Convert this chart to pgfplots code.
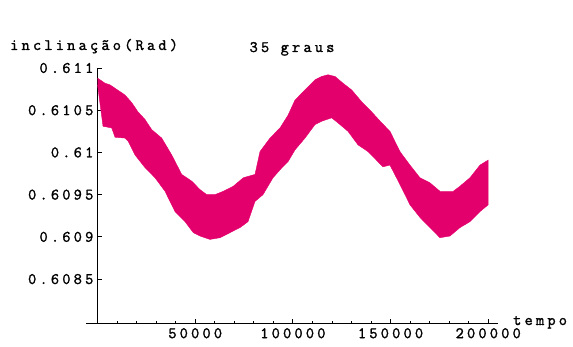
\documentclass[border=0pt]{standalone}
\usepackage{pgfplots}
\pgfplotsset{compat=1.18}
\usepackage{fontspec}
\setmonofont{Latin Modern Mono}[LetterSpace=20, FakeBold=1.6]
\definecolor{bandc}{RGB}{228,0,108}
\newcommand{\lf}{\ttfamily\fontsize{16}{19}\selectfont}
\newcommand{\kk}{\kern3.2bp}
\begin{document}
\begin{tikzpicture}
\lf
\useasboundingbox (-86bp,-24bp) rectangle (487bp,323bp);
\begin{axis}[
  at={(0,0)}, anchor=south west,
  scale only axis, width=412bp, height=255bp,
  xmin=-5900, xmax=205000, ymin=0.60798, ymax=0.611,
  axis x line=bottom, axis y line=center,
  axis line style={-, line width=0.9bp, black},
  tick align=inside, major tick length=4bp, minor tick length=2.5bp,
  tick style={black, line width=0.8bp},
  xtick={50000,100000,150000,200000},
  xticklabels={\mbox{50000},\mbox{100000},\mbox{150000},\mbox{200000}},
  minor xtick={10000,20000,30000,40000,60000,70000,80000,90000,110000,120000,130000,140000,160000,170000,180000,190000},
  ytick={0.6085,0.609,0.6095,0.61,0.6105,0.611},
  yticklabels={\mbox{0\kk.\kk6\kk0\kk8\kk5},\mbox{0\kk.\kk6\kk0\kk9},\mbox{0\kk.\kk6\kk0\kk9\kk5},\mbox{0\kk.\kk6\kk1},\mbox{0\kk.\kk6\kk1\kk0\kk5},\mbox{0\kk.\kk6\kk1\kk1}},
  scaled x ticks=false, scaled y ticks=false,
  ticklabel style={font=\lf, inner sep=0pt},
  yticklabel style={anchor=east, xshift=-4bp},
  xticklabel style={anchor=north, yshift=-5bp},
  clip=false,
]
\addplot[fill=bandc, draw=bandc, line width=0.4bp] coordinates {
(0,0.61088)(3840,0.61082)(6400,0.61080)(14070,0.61068)(17500,0.61059)(20730,0.61048)(24310,0.61039)(27740,0.61027)(32860,0.61017)(37980,0.60997)(43090,0.60974)(48210,0.60966)(52460,0.60956)(55890,0.60950)(60140,0.60950)(64390,0.60954)(69500,0.60960)(74620,0.60970)(80610,0.60974)(83170,0.61001)(88290,0.61017)(93410,0.61029)(97500,0.61044)(101080,0.61062)(106200,0.61074)(111320,0.61086)(114750,0.61090)(117970,0.61092)(121550,0.61090)(125650,0.61082)(130100,0.61074)(135220,0.61060)(140340,0.61048)(145450,0.61035)(149700,0.61025)(154820,0.61001)(159940,0.60985)(165060,0.60970)(170180,0.60964)(175290,0.60954)(178720,0.60954)(182100,0.60954)(185530,0.60960)(190650,0.60970)(195770,0.60985)(200000,0.60991)
(200000,0.60938)(195770,0.60930)(190650,0.60918)(185530,0.60911)(180410,0.60901)(175290,0.60899)(170180,0.60911)(165060,0.60923)(159940,0.60938)(154820,0.60962)(149700,0.60985)(146120,0.60983)(143560,0.60989)(138440,0.61001)(133330,0.61009)(128210,0.61025)(123090,0.61035)(119870,0.61041)(114750,0.61037)(111320,0.61033)(106200,0.61017)(101080,0.61003)(97500,0.60989)(94430,0.60982)(89820,0.60970)(84700,0.60950)(80610,0.60942)(77030,0.60918)(72930,0.60911)(67810,0.60905)(62700,0.60899)(57580,0.60897)(52460,0.60901)(49030,0.60905)(44780,0.60918)(39660,0.60930)(34550,0.60954)(29430,0.60970)(24310,0.60982)(19190,0.60997)(15760,0.61013)(14070,0.61017)(8960,0.61018)(7270,0.61029)(2810,0.61031)(0,0.61080)
};
\end{axis}
\node[anchor=base west, inner sep=0pt] at (-76bp,273bp) {inclinação(Rad)};
\node[anchor=base, inner sep=0pt] at (206bp,271bp) {35 graus};
\node[anchor=base west, inner sep=0pt] at (427bp,-2bp) {tempo};
\end{tikzpicture}
\end{document}
